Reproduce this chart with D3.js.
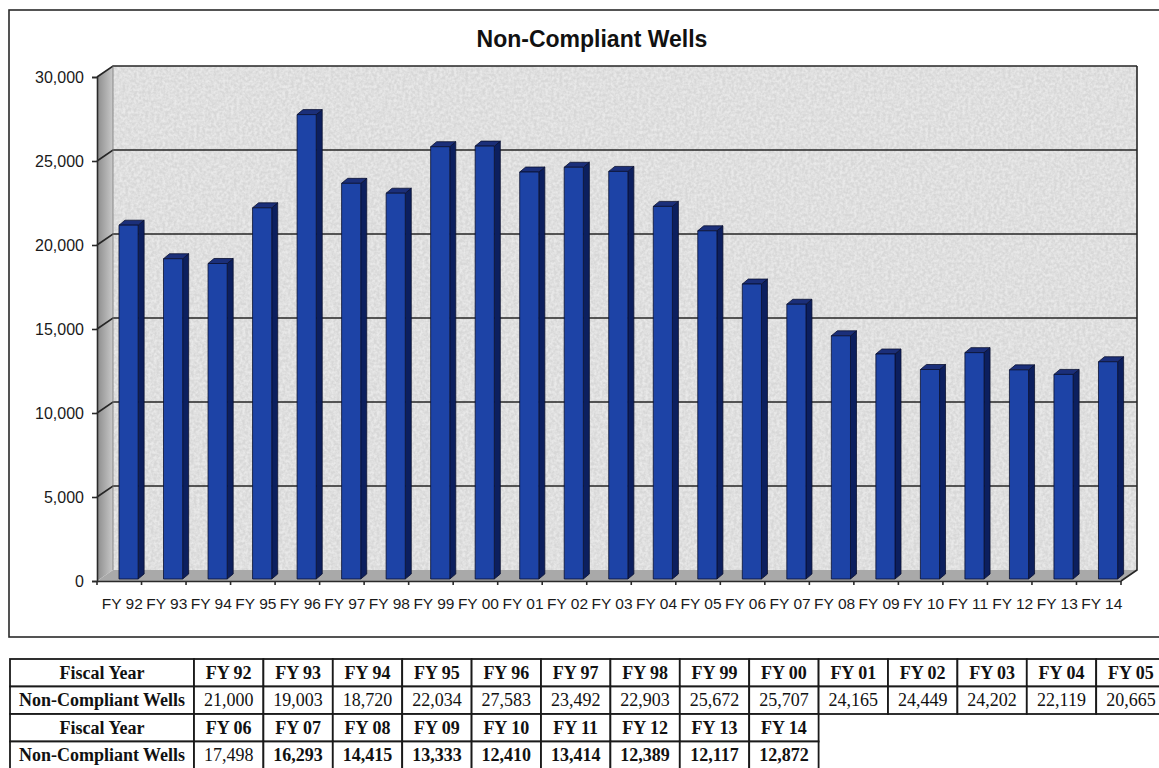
<!DOCTYPE html>
<html>
<head>
<meta charset="utf-8">
<script src="https://cdn.jsdelivr.net/npm/d3@7"></script>
<style>
  body { margin: 0; background: #fff; }
  svg { display: block; }
</style>
</head>
<body>
<div id="wrapper"></div>
<script>
const fiscalYears = [
  "FY 92", "FY 93", "FY 94", "FY 95", "FY 96", "FY 97", "FY 98", "FY 99",
  "FY 00", "FY 01", "FY 02", "FY 03", "FY 04", "FY 05", "FY 06", "FY 07",
  "FY 08", "FY 09", "FY 10", "FY 11", "FY 12", "FY 13", "FY 14",
];
const nonCompliantWells = [
  21000, 19003, 18720, 22034, 27583, 23492, 22903, 25672,
  25707, 24165, 24449, 24202, 22119, 20665, 17498, 16293,
  14415, 13333, 12410, 13414, 12389, 12117, 12872,
];
const yTicks = [0, 5000, 10000, 15000, 20000, 25000, 30000];
const tableRowLabels = ["Fiscal Year", "Non-Compliant Wells"];
const yearsPerTableRow = 14;
const boldTableValues = ["FY 07", "FY 08", "FY 09", "FY 10", "FY 11", "FY 12", "FY 13", "FY 14"];

function drawChart() {
  const dimensions = {
    width: 1159,
    height: 768,
    plot: { left: 97, right: 1121, top: 77, bottom: 581 },
  };
  const depth = { dx: 16, dy: -11 };
  const dataset = fiscalYears.map((year, i) => ({ year, value: nonCompliantWells[i] }));

  const svg = d3.select("#wrapper")
    .append("svg")
    .attr("width", dimensions.width)
    .attr("height", dimensions.height);

  const defs = svg.append("defs");
  const sideGrad = defs.append("linearGradient").attr("id", "sideWall");
  sideGrad.append("stop").attr("offset", "0%").attr("stop-color", "#8c8c8c");
  sideGrad.append("stop").attr("offset", "100%").attr("stop-color", "#c9c9c9");

  const speckle = defs.append("filter").attr("id", "speckle")
    .attr("x", 0).attr("y", 0).attr("width", "100%").attr("height", "100%");
  speckle.append("feTurbulence").attr("type", "fractalNoise")
    .attr("baseFrequency", 0.35).attr("numOctaves", 2).attr("seed", 4);
  speckle.append("feColorMatrix").attr("type", "matrix")
    .attr("values", "0 0 0 0 1  0 0 0 0 1  0 0 0 0 1  0 0 0 -2.2 1.55");

  // outer chart frame
  svg.append("rect")
    .attr("x", 9).attr("y", 10)
    .attr("width", 1200).attr("height", 627)
    .attr("fill", "none").attr("stroke", "#2a2a2a").attr("stroke-width", 1.6);

  // scales
  const xScale = d3.scaleBand()
    .domain(fiscalYears)
    .range([dimensions.plot.left, dimensions.plot.right]);

  const yScale = d3.scaleLinear()
    .domain([0, 30000])
    .range([dimensions.plot.bottom, dimensions.plot.top]);

  const p = dimensions.plot;
  const back = (x, y) => [x + depth.dx, y + depth.dy];
  const poly = (pts) => "M" + pts.map((q) => q.join(",")).join("L") + "Z";

  // walls and floor
  const wall = svg.append("g");
  const bw = [back(p.left, p.top), back(p.right, p.top), back(p.right, p.bottom), back(p.left, p.bottom)];
  wall.append("path").attr("d", poly(bw)).attr("fill", "#d7d7d7");
  wall.append("path").attr("d", poly(bw)).attr("fill", "#fff").attr("filter", "url(#speckle)").attr("opacity", 0.45);
  wall.append("path")
    .attr("d", poly([[p.left, p.bottom], [p.left, p.top], back(p.left, p.top), back(p.left, p.bottom)]))
    .attr("fill", "url(#sideWall)");
  wall.append("path")
    .attr("d", poly([[p.left, p.bottom], back(p.left, p.bottom), back(p.right, p.bottom), [p.right, p.bottom]]))
    .attr("fill", "#a9a9a9");

  // gridlines on back wall and side wall
  const grid = svg.append("g").attr("stroke", "#262626").attr("stroke-width", 1.6).attr("fill", "none");
  yTicks.filter((t) => t > 0).forEach((t) => {
    const y = yScale(t);
    grid.append("path").attr("d", "M" + [p.left, y] + "L" + back(p.left, y) + "L" + back(p.right, y));
  });
  grid.append("path").attr("d", "M" + back(p.right, p.top) + "L" + back(p.right, p.bottom) + "L" + [p.right, p.bottom]);
  grid.append("path").attr("d", "M" + back(p.left, p.bottom) + "L" + back(p.left, p.top)).attr("stroke-width", 0.8).attr("stroke", "#777");

  // 3D bars
  const bandW = xScale.bandwidth();
  const barW = bandW * 0.43;
  const barDx = 6, barDy = -5;
  const bars = svg.append("g")
    .selectAll("g")
    .data(dataset)
    .join("g")
    .attr("stroke", "#0a1030").attr("stroke-width", 0.8).attr("stroke-linejoin", "round");

  bars.each(function (d) {
    const g = d3.select(this);
    const x0 = xScale(d.year) + bandW * 0.494;
    const x1 = x0 + barW;
    const yTop = yScale(d.value) - 3;
    const yBot = yScale(0) - 2;
    g.append("path")
      .attr("d", poly([[x1, yTop], [x1 + barDx, yTop + barDy], [x1 + barDx, yBot + barDy], [x1, yBot]]))
      .attr("fill", "#0c1f5e");
    g.append("path")
      .attr("d", poly([[x0, yTop], [x0 + barDx, yTop + barDy], [x1 + barDx, yTop + barDy], [x1, yTop]]))
      .attr("fill", "#1b2f7a");
    g.append("rect")
      .attr("x", x0).attr("y", yTop)
      .attr("width", barW).attr("height", yBot - yTop)
      .attr("fill", "#1d43a6");
  });

  // y axis
  const yAxisGenerator = d3.axisLeft(yScale)
    .tickValues(yTicks)
    .tickFormat(d3.format(","))
    .tickSize(5)
    .tickPadding(8);
  const yAxis = svg.append("g")
    .attr("transform", `translate(${p.left},0)`)
    .call(yAxisGenerator);
  yAxis.select(".domain").attr("stroke", "#2a2a2a").attr("stroke-width", 1.6);
  yAxis.selectAll(".tick line").attr("stroke", "#2a2a2a").attr("stroke-width", 1.6);
  yAxis.selectAll("text")
    .style("font-family", "'Liberation Sans', Arial, sans-serif")
    .style("font-size", "16px")
    .attr("fill", "#1a1a1a");

  // x axis
  const xAxisGenerator = d3.axisBottom(xScale).tickSize(0).tickPadding(17);
  const xAxis = svg.append("g")
    .attr("transform", `translate(0,${p.bottom})`)
    .call(xAxisGenerator);
  xAxis.select(".domain").attr("stroke", "#2a2a2a").attr("stroke-width", 1.6);
  xAxis.selectAll("text")
    .attr("x", 3)
    .style("font-family", "'Liberation Sans', Arial, sans-serif")
    .style("font-size", "15.5px")
    .attr("fill", "#1a1a1a");
  xAxis.append("g")
    .selectAll("line")
    .data(fiscalYears.concat(null))
    .join("line")
    .attr("x1", (d) => (d ? xScale(d) : p.right))
    .attr("x2", (d) => (d ? xScale(d) : p.right))
    .attr("y1", 0).attr("y2", 4)
    .attr("stroke", "#2a2a2a").attr("stroke-width", 1.6);

  // title
  svg.append("text")
    .attr("x", 592)
    .attr("y", 47)
    .attr("text-anchor", "middle")
    .style("font-family", "'Liberation Sans', Arial, sans-serif")
    .style("font-size", "23px")
    .style("font-weight", "bold")
    .attr("fill", "#111")
    .text("Non-Compliant Wells");

  // data table below chart
  const table = {
    left: 10, labelRight: 194, colW: 69.4, top: 659, rowH: 27.5,
  };
  const tableGroups = d3.range(0, fiscalYears.length, yearsPerTableRow).map((start) => ({
    years: fiscalYears.slice(start, start + yearsPerTableRow),
    values: nonCompliantWells.slice(start, start + yearsPerTableRow),
  }));
  const colScale = d3.scaleBand()
    .domain(d3.range(yearsPerTableRow))
    .range([table.labelRight, table.labelRight + table.colW * yearsPerTableRow]);
  const font = "'Liberation Serif', 'Times New Roman', serif";
  const tg = svg.append("g");

  tableGroups.forEach((grp, gi) => {
    tableRowLabels.forEach((label, ri) => {
      const rowTop = table.top + (gi * 2 + ri) * table.rowH;
      const cells = [{ text: label, x0: table.left, x1: table.labelRight, bold: true }].concat(
        grp.years.map((year, ci) => ({
          text: ri === 0 ? year : d3.format(",")(grp.values[ci]),
          x0: colScale(ci),
          x1: colScale(ci) + colScale.bandwidth(),
          bold: ri === 0 || boldTableValues.includes(year),
        }))
      );
      cells.forEach((c) => {
        tg.append("rect")
          .attr("x", c.x0).attr("y", rowTop)
          .attr("width", c.x1 - c.x0).attr("height", table.rowH)
          .attr("fill", "#fff").attr("stroke", "#1a1a1a").attr("stroke-width", 1.8);
        tg.append("text")
          .attr("x", (c.x0 + c.x1) / 2)
          .attr("y", rowTop + table.rowH / 2 + 6)
          .attr("text-anchor", "middle")
          .style("font-family", font)
          .style("font-size", "18px")
          .style("font-weight", c.bold ? "bold" : "normal")
          .attr("fill", "#111")
          .text(c.text);
      });
    });
  });
}

drawChart();
</script>
</body>
</html>
